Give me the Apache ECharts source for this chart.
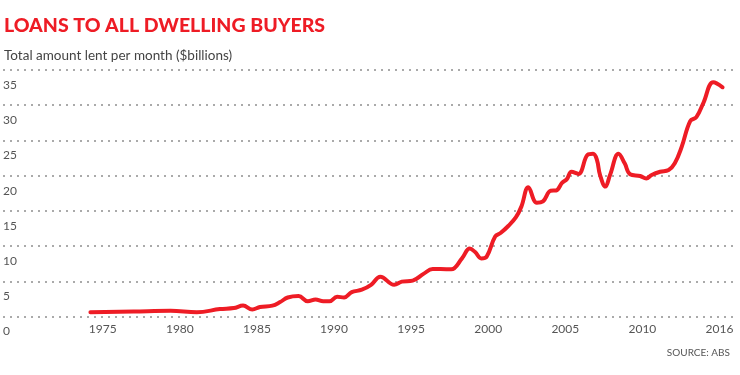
<!DOCTYPE html>
<html>
<head>
<meta charset="utf-8">
<script src="https://cdn.jsdelivr.net/npm/echarts@6/dist/echarts.min.js"></script>
<style>
  html, body { margin: 0; padding: 0; background: #fff; }
  #chart { width: 740px; height: 375px; }
</style>
</head>
<body>
<div id="chart"></div>
<script>
// years (decimal) and monthly loan totals ($bn)
const years = [
  1974.2, 1977.0, 1979.4, 1981.1, 1982.6, 1983.5, 1984.1, 1984.7, 1985.2, 1986.0,
  1986.5, 1987.0, 1987.7, 1988.3, 1988.8, 1989.3, 1989.7, 1990.2, 1990.65, 1991.15,
  1991.8, 1992.4, 1993.0, 1993.9, 1994.4, 1995.1, 1995.8, 1996.4, 1996.9, 1997.6,
  1998.3, 1998.8, 1999.15, 1999.55, 1999.9, 2000.45, 2000.8, 2001.3, 2001.8, 2002.15,
  2002.6, 2003.15, 2003.55, 2004.05, 2004.4, 2004.8, 2005.1, 2005.4, 2005.85, 2006.45,
  2006.8, 2007.05, 2007.25, 2007.6, 2007.9, 2008.45, 2008.85, 2009.2, 2009.85, 2010.25,
  2010.6, 2011.15, 2011.7, 2012.1, 2012.55, 2013.1, 2013.5, 2013.95, 2014.6, 2015.2
];
const loans = [
  0.6, 0.7, 0.8, 0.6, 1.05, 1.2, 1.55, 1.0, 1.35, 1.55,
  2.05, 2.7, 2.9, 2.15, 2.4, 2.15, 2.15, 2.8, 2.7, 3.45,
  3.8, 4.5, 5.65, 4.5, 4.95, 5.1, 6.05, 6.75, 6.75, 6.7,
  8.25, 9.65, 9.15, 8.25, 8.5, 11.35, 11.85, 12.85, 14.1, 15.6,
  18.35, 16.15, 16.35, 17.85, 17.9, 19.0, 19.5, 20.55, 20.25, 22.95,
  23.1, 22.25, 20.1, 18.45, 20.1, 23.1, 21.75, 20.2, 19.95, 19.6,
  20.1, 20.55, 20.8, 21.75, 24.1, 27.75, 28.3, 30.3, 33.25, 32.55
];
const xTickValues = [1975, 1980, 1985, 1990, 1995, 2000, 2005, 2010, 2015];
const xTickLabels = ['1975', '1980', '1985', '1990', '1995', '2000', '2005', '2010', '2016'];

const chart = echarts.init(document.getElementById('chart'));
const font = 'Lato, "Open Sans", sans-serif';

chart.setOption({
  animation: false,
  title: [
    {
      text: 'LOANS TO ALL DWELLING BUYERS',
      left: 4,
      top: 16,
      padding: 0,
      textStyle: { color: '#ee1c25', fontSize: 19.5, fontWeight: 900, fontFamily: font }
    },
    {
      text: 'Total amount lent per month ($billions)',
      left: 4,
      top: 49,
      padding: 0,
      textStyle: { color: '#444', fontSize: 13.5, fontWeight: 'normal', fontFamily: font }
    },
    {
      text: 'SOURCE: ABS',
      right: 10,
      top: 348,
      padding: 0,
      textStyle: { color: '#555', fontSize: 10, fontWeight: 'normal', fontFamily: font }
    }
  ],
  grid: { left: 3, right: 2, top: 70, bottom: 58.5 },
  xAxis: {
    type: 'value',
    min: 1968.53,
    max: 2016.2,
    axisLine: { show: false },
    axisTick: { show: false },
    splitLine: { show: false },
    axisLabel: {
      customValues: xTickValues,
      formatter: (v) => xTickLabels[xTickValues.indexOf(v)],
      color: '#555',
      fontSize: 12,
      fontFamily: font,
      margin: 7
    }
  },
  yAxis: {
    type: 'value',
    min: 0,
    max: 35,
    interval: 5,
    axisLine: { show: false },
    axisTick: { show: false },
    axisLabel: {
      inside: true,
      margin: 0,
      verticalAlign: 'top',
      padding: [9, 0, 0, 0],
      color: '#555',
      fontSize: 12,
      fontFamily: font
    },
    splitLine: {
      lineStyle: { color: '#aaa', width: 2, type: [2, 5] }
    }
  },
  series: [
    {
      type: 'line',
      data: years.map((y, i) => [y, loans[i]]),
      smooth: 0.4,
      symbol: 'none',
      lineStyle: { color: '#ee1c25', width: 4, cap: 'round', join: 'round' }
    }
  ]
});
</script>
</body>
</html>
